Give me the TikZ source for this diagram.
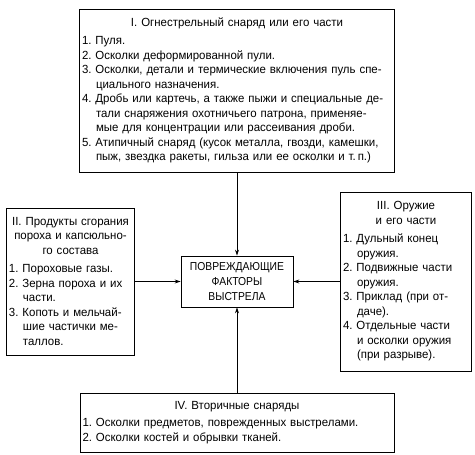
\documentclass[tikz,border=0pt]{standalone}
\usepackage{fontspec}
\setmainfont[FakeStretch=0.97]{Liberation Sans}
\newfontfamily\capsfont[FakeStretch=0.9]{Liberation Sans}
\usetikzlibrary{arrows.meta}
\newcommand{\boxfont}{\fontsize{11.8}{14.5}\selectfont\frenchspacing\parskip=0pt}
\newcommand{\pitem}{\par\hangindent=14pt\hangafter=1\noindent}

\begin{document}
\begin{tikzpicture}[x=1pt, y=1pt,
    factor/.style ={draw, line width=0.8pt, inner xsep=2.5pt, inner ysep=0pt, font=\boxfont},
    hit/.style ={line width=0.8pt, -{Stealth[length=6pt, width=4pt]}}]
   \useasboundingbox (0,0) rectangle (475,455);

   \node[factor, text width=310pt, minimum height=163pt] (I) at (237,364.5)
     {\boxfont{\centering I. Огнестрельный снаряд или его части\par}\vspace{4pt}\raggedright
      \pitem 1. Пуля.
      \pitem 2. Осколки деформированной пули.
      \pitem 3. Осколки, детали и термические включения пуль спе-\newline циального назначения.
      \pitem 4. Дробь или картечь, а также пыжи и специальные де-\newline тали снаряжения охотничьего патрона, применяе-\newline мые для концентрации или рассеивания дроби.
      \pitem 5. Атипичный снаряд (кусок металла, гвозди, камешки,\newline пыж, звездка ракеты, гильза или ее осколки и т.\,п.)\par};
   \node[factor, text width=123pt, minimum height=147pt] (II) at (70.5,173.5)
     {\boxfont{\centering II. Продукты сгорания\\ пороха и капсюльно-\\ го состава\par}\vspace{4pt}\raggedright
      \pitem 1. Пороховые газы.
      \pitem 2. Зерна пороха и их\newline части.
      \pitem 3. Копоть и мельчай-\newline шие частички ме-\newline таллов.\par};
   \node[factor, text width=126pt, minimum height=179pt] (III) at (406,173.5)
     {\boxfont{\centering III. Оружие\\ и его части\par}\vspace{4pt}\raggedright
      \pitem 1. Дульный конец\newline оружия.
      \pitem 2. Подвижные части\newline оружия.
      \pitem 3. Приклад (при от-\newline даче).
      \pitem 4. Отдельные части\newline и осколки оружия\newline (при разрыве).\par};
   \node[factor, text width=309pt, minimum height=59pt] (IV) at (237,32.5)
     {\boxfont{\centering IV. Вторичные снаряды\par}\vspace{3pt}\raggedright
      \pitem 1. Осколки предметов, поврежденных выстрелами.
      \pitem 2. Осколки костей и обрывки тканей.\par};
   \node[factor, align=center, minimum width=112pt, minimum height=51pt,
     font=\capsfont\fontsize{11.5}{15}\selectfont] (F) at (237,173.5)
     {ПОВРЕЖДАЮЩИЕ\\ ФАКТОРЫ\\ ВЫСТРЕЛА};

   \draw[hit] (I) to (F);
   \draw[hit] (II) to (F);
   \draw[hit] (III) to (F);
   \draw[hit] (IV) to (F);
\end{tikzpicture}
\end{document}
